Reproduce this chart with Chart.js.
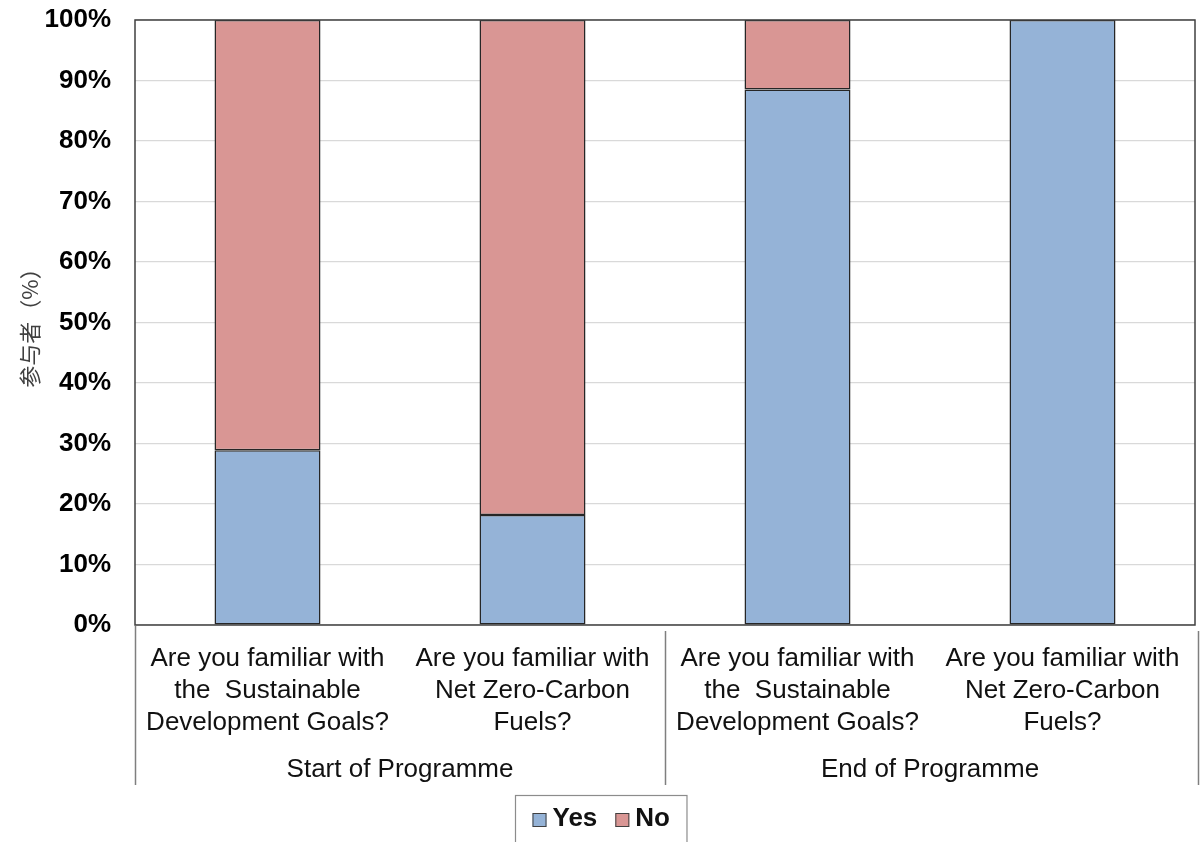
<!DOCTYPE html>
<html>
<head>
<meta charset="utf-8">
<script src="https://cdn.jsdelivr.net/npm/chart.js@4/dist/chart.umd.min.js"></script>
<style>
  html, body { margin: 0; padding: 0; background: #fff; }
  #wrap { width: 1201px; height: 842px; position: relative; }
</style>
</head>
<body>
<div id="wrap"><canvas id="c"></canvas></div>
<script>
// Survey questions (one bar each) and the programme stage they belong to
const questions = [
  ['Are you familiar with', 'the  Sustainable', 'Development Goals?'],
  ['Are you familiar with', 'Net Zero-Carbon', 'Fuels?'],
  ['Are you familiar with', 'the  Sustainable', 'Development Goals?'],
  ['Are you familiar with', 'Net Zero-Carbon', 'Fuels?']
];
const stages = ['Start of Programme', 'End of Programme'];
const stageSpan = [2, 2];

// Share of participants (%)
const yesValues = [28.9, 18.2, 88.5, 100];
const noValues = [71.1, 81.8, 11.5, 0];

const yTicks = [0, 10, 20, 30, 40, 50, 60, 70, 80, 90, 100];
const yTitle = '参与者（%）';
const seriesNames = ['Yes', 'No'];

const YES_COLOR = '#95b3d7';
const NO_COLOR = '#d99694';
const LABEL_FONT = '"Liberation Sans", Arial, sans-serif';

// Plot frame, stage separators and stage names under the category labels
const stageAxis = {
  id: 'stageAxis',
  afterDraw(chart) {
    const ctx = chart.ctx;
    const xs = chart.scales.x;
    const area = chart.chartArea;
    const half = (xs.getPixelForValue(1) - xs.getPixelForValue(0)) / 2;
    ctx.save();
    // frame around the plot
    ctx.strokeStyle = '#404040';
    ctx.lineWidth = 1.5;
    ctx.strokeRect(area.left, area.top, area.right - area.left, area.bottom - area.top);
    // group separators
    ctx.strokeStyle = '#7f7f7f';
    ctx.lineWidth = 1.5;
    const lineBottom = 785;
    let idx = 0;
    const bounds = [xs.getPixelForValue(0) - half];
    stageSpan.forEach(n => { idx += n; bounds.push(xs.getPixelForValue(idx - 1) + half); });
    bounds.forEach((bx, i) => {
      const x = Math.round(bx) + (i === bounds.length - 1 ? 3 : 0) + 0.5;
      ctx.beginPath();
      ctx.moveTo(x, area.bottom + (i === 0 ? 1 : 6));
      ctx.lineTo(x, lineBottom);
      ctx.stroke();
    });
    // stage names
    ctx.fillStyle = '#111';
    ctx.font = '26px ' + LABEL_FONT;
    ctx.textAlign = 'center';
    ctx.textBaseline = 'middle';
    stages.forEach((s, i) => {
      ctx.fillText(s, (bounds[i] + bounds[i + 1]) / 2, 770);
    });
    ctx.restore();
  }
};

// Boxed legend below the chart
const boxLegend = {
  id: 'boxLegend',
  afterDraw(chart) {
    const ctx = chart.ctx;
    ctx.save();
    ctx.font = 'bold 26px ' + LABEL_FONT;
    const sq = 14, gapSq = 6, gapItem = 18, padX = 17;
    const items = chart.data.datasets.map(d => ({ text: d.label, color: d.backgroundColor }));
    const widths = items.map(it => sq + gapSq + ctx.measureText(it.text).width);
    const total = widths.reduce((a, b) => a + b, 0) + gapItem * (items.length - 1) + padX * 2;
    const cx = chart.width / 2;
    const left = Math.round(cx - total / 2) + 0.5;
    const top = 795.5;
    ctx.strokeStyle = '#8c8c8c';
    ctx.lineWidth = 1.2;
    ctx.strokeRect(left, top, total, 60);
    let x = left + padX;
    const midY = 819;
    items.forEach((it, i) => {
      ctx.fillStyle = it.color;
      ctx.fillRect(x, midY - sq / 2 + 1, sq, sq);
      ctx.strokeStyle = '#404040';
      ctx.lineWidth = 1;
      ctx.strokeRect(x + 0.5, midY - sq / 2 + 1.5, sq - 1, sq - 1);
      ctx.fillStyle = '#111';
      ctx.textAlign = 'left';
      ctx.textBaseline = 'middle';
      ctx.fillText(it.text, x + sq + gapSq, midY);
      x += widths[i] + gapItem;
    });
    ctx.restore();
  }
};

new Chart(document.getElementById('c'), {
  type: 'bar',
  data: {
    labels: questions,
    datasets: [
      { label: seriesNames[0], data: yesValues, backgroundColor: YES_COLOR, borderColor: '#262626', borderWidth: 1.5, borderSkipped: false, barPercentage: 0.8, categoryPercentage: 0.5 },
      { label: seriesNames[1], data: noValues, backgroundColor: NO_COLOR, borderColor: '#262626', borderWidth: 1.5, borderSkipped: false, barPercentage: 0.8, categoryPercentage: 0.5 }
    ]
  },
  options: {
    responsive: true,
    maintainAspectRatio: false,
    animation: false,
    layout: { padding: { top: 20, right: 6, left: 0, bottom: 0 } },
    plugins: {
      legend: { display: false },
      tooltip: { enabled: false }
    },
    scales: {
      x: {
        stacked: true,
        grid: { display: false, drawTicks: false },
        border: { display: false },
        ticks: {
          color: '#111',
          font: { family: LABEL_FONT, size: 26, lineHeight: 1.23 },
          padding: 18,
          maxRotation: 0,
          autoSkip: false
        },
        afterFit(scale) {
          scale.height = 217;
          scale.paddingLeft = 0;
          scale.paddingRight = 0;
        }
      },
      y: {
        stacked: true,
        min: 0,
        max: 100,
        afterBuildTicks(scale) { scale.ticks = yTicks.map(v => ({ value: v })); },
        grid: { color: '#d9d9d9', lineWidth: 1.2, drawTicks: false },
        border: { display: false },
        ticks: {
          color: '#000',
          font: { family: LABEL_FONT, size: 26, weight: 'bold' },
          padding: 24,
          callback: v => v + '%'
        },
        title: {
          display: true,
          text: yTitle,
          color: '#404040',
          font: { family: '"Noto Sans CJK SC", sans-serif', size: 22 },
          padding: { top: 16, bottom: 0 }
        },
        afterFit(scale) {
          scale.width = 135;
          scale.paddingTop = 0;
          scale.paddingBottom = 0;
        }
      }
    }
  },
  plugins: [stageAxis, boxLegend]
});
</script>
</body>
</html>
